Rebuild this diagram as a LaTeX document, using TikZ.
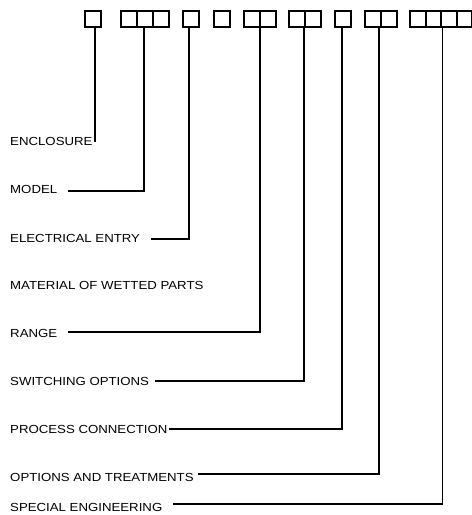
\documentclass[tikz,border=0pt]{standalone}
\usepackage{fontspec}
\setmainfont{Liberation Sans}
\begin{document}
\begin{tikzpicture}[x=1pt, y=-1pt,
    cell/.style={draw, line width=2.2pt, minimum width=16pt, minimum height=16pt, inner sep=0pt, outer sep=0pt},
    lbl/.style={anchor=west, inner sep=0pt, xscale=1.13, font=\fontsize{11.7}{14}\selectfont},
    lead/.style={line width=1.8pt}]
    \useasboundingbox (0,0) rectangle (472,515);

    % code boxes
    \foreach \n/\x in {enc/93.3, mod1/129.1, mod2/145.1, mod3/161.1, ent/191, mat/222.3,
        rng1/252.1, rng2/268.1, sw1/297.1, sw2/313.1, pc/343.1, opt1/373.1, opt2/389.1}
        \node[cell] (\n) at (\x,19) {};
    \foreach \n/\x in {spc1/417.85, spc2/433.35, spc3/448.85, spc4/464.35}
        \node[cell, minimum width=15.5pt] (\n) at (\x,19) {};

    % labels
    \node[lbl] (enclosure) at (10,141.5) {ENCLOSURE};
    \node[lbl] (model) at (10,189.5) {MODEL};
    \node[lbl] (entry) at (10,238) {ELECTRICAL ENTRY};
    \node[lbl] (wetted) at (10,285.3) {MATERIAL OF WETTED PARTS};
    \node[lbl] (range) at (10,333) {RANGE};
    \node[lbl] (switching) at (10,381) {SWITCHING OPTIONS};
    \node[lbl] (process) at (10,429.2) {PROCESS CONNECTION};
    \node[lbl] (options) at (10,477.2) {OPTIONS AND TREATMENTS};
    \node[lbl] (special) at (10,507.5) {SPECIAL ENGINEERING};

    % leaders
    \draw[lead] ([xshift=2pt]enc.south) -- ([xshift=2pt]enc.south |- enclosure.east);
    \draw[lead] ([xshift=-1.5pt]mod2.south) |- ([xshift=11pt,yshift=-1.2pt]model.east);
    \draw[lead] ([xshift=-2pt]ent.south) |- ([xshift=11pt,yshift=-1.3pt]entry.east);
    \draw[lead] (rng1.south east) |- ([xshift=11pt,yshift=1pt]range.east);
    \draw[lead] ([xshift=-1.5pt]sw1.south east) |- ([xshift=6pt]switching.east);
    \draw[lead] ([xshift=-1.4pt]pc.south) |- ([xshift=1pt,yshift=-0.1pt]process.east);
    \draw[lead] ([xshift=-2pt]opt1.south east) |- ([xshift=4pt,yshift=3pt]options.east);
    \draw[lead] ([xshift=1.4pt]spc2.south east) |- ([xshift=10pt,yshift=3.2pt]special.east);
\end{tikzpicture}
\end{document}
